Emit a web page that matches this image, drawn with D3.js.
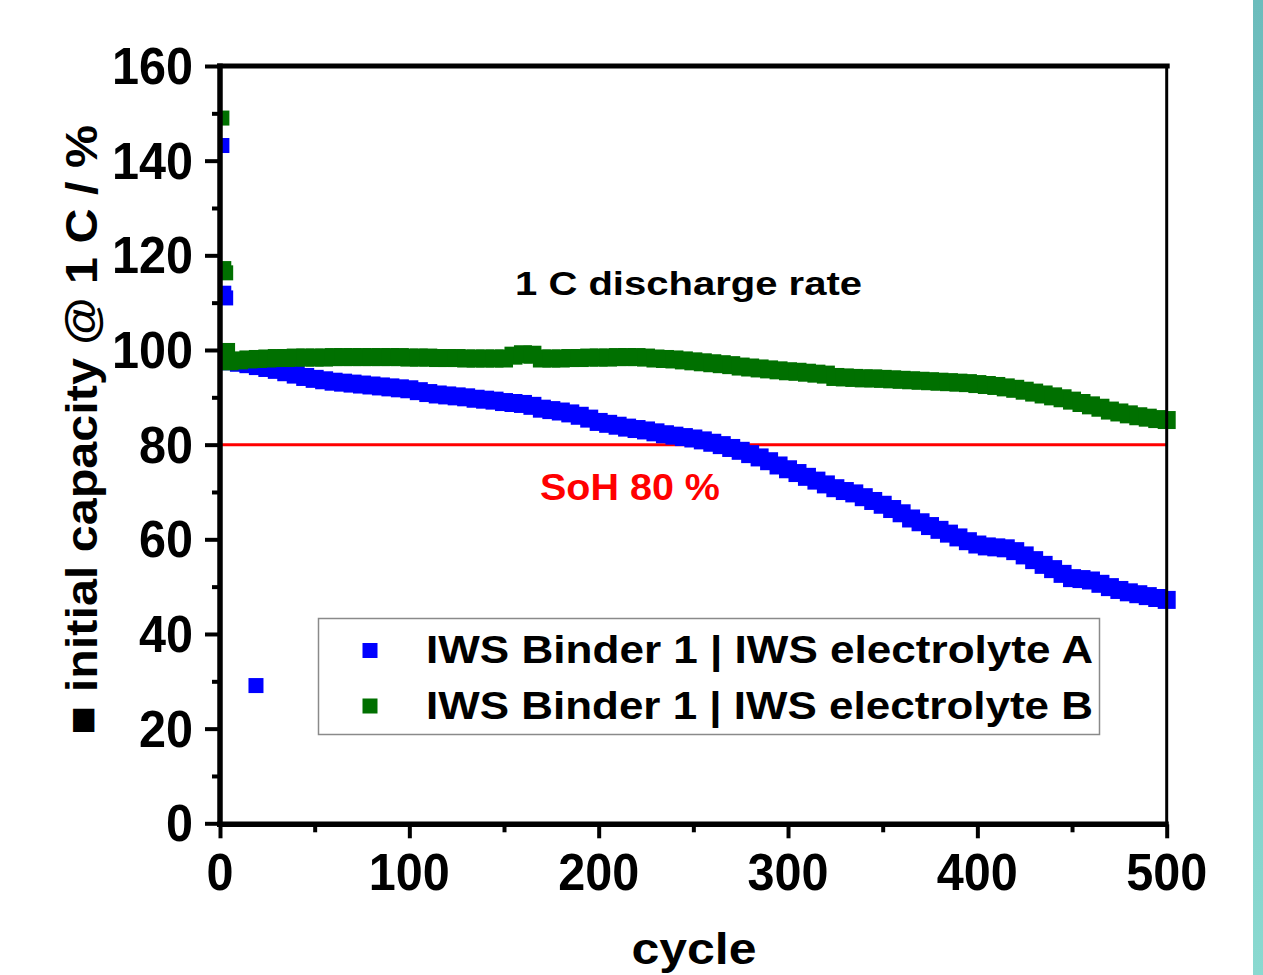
<!DOCTYPE html>
<html><head><meta charset="utf-8">
<script src="https://cdn.jsdelivr.net/npm/d3@7"></script>
<style>
html,body{margin:0;padding:0;background:#fff;}
svg text{font-family:"Liberation Sans",Arial,Helvetica,sans-serif;font-weight:bold;}
</style></head>
<body>
<svg id="chart" width="1263" height="975"></svg>
<script>
// ---------- data ----------
const cycles = [5,10,15,20,25,30,35,40,45,50,55,60,65,70,75,80,85,90,95,100,
  105,110,115,120,125,130,135,140,145,150,155,160,165,170,175,180,185,190,195,200,
  205,210,215,220,225,230,235,240,245,250,255,260,265,270,275,280,285,290,295,300,
  305,310,315,320,325,330,335,340,345,350,355,360,365,370,375,380,385,390,395,400,
  405,410,415,420,425,430,435,440,445,450,455,460,465,470,475,480,485,490,495,500];
const capacityA = [97.6,97.3,97.0,96.6,96.2,95.8,95.3,94.8,94.3,93.9,93.6,93.3,93.1,92.9,92.7,92.5,92.3,92.1,91.9,91.7,
  91.3,90.9,90.6,90.4,90.2,90.0,89.7,89.5,89.3,89.0,88.8,88.6,88.2,87.6,87.3,87.0,86.6,86.1,85.5,84.8,
  84.4,84.0,83.6,83.3,83.0,82.6,82.2,81.9,81.6,81.3,80.9,80.4,79.9,79.3,78.7,78.0,77.3,76.5,75.6,74.8,
  74.0,73.2,72.4,71.6,70.8,70.2,69.7,68.9,68.1,67.3,66.4,65.5,64.4,63.6,62.8,62.0,61.2,60.4,59.6,58.9,
  58.5,58.3,58.1,57.5,56.6,55.6,54.6,53.7,52.7,51.8,51.6,51.3,50.6,49.9,49.3,48.8,48.4,48.0,47.6,47.2];
const capacityB = [97.6,97.8,98.0,98.1,98.2,98.3,98.3,98.4,98.4,98.4,98.4,98.5,98.5,98.5,98.5,98.5,98.5,98.5,98.5,98.4,
  98.4,98.4,98.3,98.3,98.3,98.2,98.2,98.2,98.2,98.2,98.8,99.1,99.0,98.2,98.2,98.2,98.3,98.3,98.4,98.4,
  98.4,98.5,98.5,98.5,98.4,98.2,98.1,98.0,97.8,97.6,97.4,97.2,97.0,96.8,96.5,96.3,96.1,95.9,95.7,95.5,
  95.4,95.2,95.0,94.8,94.3,94.2,94.1,94.0,94.0,93.9,93.8,93.7,93.6,93.5,93.4,93.3,93.2,93.1,93.0,92.8,
  92.6,92.4,92.1,91.8,91.4,91.0,90.6,90.2,89.8,89.3,88.8,88.3,87.8,87.2,86.8,86.4,86.0,85.7,85.4,85.2];
const earlyCyclesA = [1,2,3,19];
const earlyCapacityA = [143.2,112.0,111.0,29.1];
const earlyCyclesB = [1,2,3,4];
const earlyCapacityB = [149.0,117.2,116.3,99.9];

const seriesNames = ["IWS Binder 1 | IWS electrolyte A","IWS Binder 1 | IWS electrolyte B"];
const seriesColors = ["#0000ff","#007000"];
const xTicks = [0,100,200,300,400,500];
const xMinor = [50,150,250,350,450];
const yTicks = [0,20,40,60,80,100,120,140,160];
const yMinor = [10,30,50,70,90,110,130,150];
const sohLevel = 80;

// ---------- layout ----------
const svg = d3.select("#chart");
const L = 220, R = 1166.7, T = 66, B = 823.3;
const x = d3.scaleLinear().domain([0,500]).range([L,R]);
const y = d3.scaleLinear().domain([0,160]).range([B,T]);

// teal edge bar
const defs = svg.append("defs");
const grad = defs.append("linearGradient").attr("id","teal").attr("x1",0).attr("y1",0).attr("x2",0).attr("y2",1);
grad.append("stop").attr("offset","0%").attr("stop-color","#6cbcbc");
grad.append("stop").attr("offset","100%").attr("stop-color","#8ad9d0");
svg.append("rect").attr("x",1253).attr("y",0).attr("width",10).attr("height",975).attr("fill","url(#teal)");

defs.append("clipPath").attr("id","plotclip").append("rect")
  .attr("x",L).attr("y",T).attr("width",R-L+10).attr("height",B-T+10);

// SoH line
svg.append("line").attr("x1",L).attr("x2",R).attr("y1",y(sohLevel)).attr("y2",y(sohLevel))
  .attr("stroke","#ff0000").attr("stroke-width",3);

// data markers
const msEarly = 15, msMain = 18;
const sets = [
  {c: cycles, v: capacityA, ce: earlyCyclesA, ve: earlyCapacityA, col: seriesColors[0]},
  {c: cycles, v: capacityB, ce: earlyCyclesB, ve: earlyCapacityB, col: seriesColors[1]}
];
const gData = svg.append("g").attr("clip-path","url(#plotclip)");
sets.forEach(s => {
  const g = gData.append("g");
  const early = s.ce.map((c,i)=>({c, v:s.ve[i]}));
  const main = s.c.map((c,i)=>({c, v:s.v[i]}));
  g.append("g").selectAll("rect").data(main).join("rect")
    .attr("x",d=>x(d.c)-msMain/2).attr("y",d=>y(d.v)-msMain/2)
    .attr("width",msMain).attr("height",msMain).attr("fill",s.col);
  g.append("g").selectAll("rect").data(early).join("rect")
    .attr("x",d=>x(d.c)-msEarly/2).attr("y",d=>y(d.v)-msEarly/2)
    .attr("width",msEarly).attr("height",msEarly).attr("fill",s.col);
});

// axes
const axisCol = "#000";
const gx = svg.append("g").attr("transform",`translate(0,${B+1})`)
  .call(d3.axisBottom(x).tickValues(xTicks).tickSize(14).tickSizeOuter(0).tickFormat(""));
const gxm = svg.append("g").attr("transform",`translate(0,${B+1})`)
  .call(d3.axisBottom(x).tickValues(xMinor).tickSize(8).tickSizeOuter(0).tickFormat(""));
const gy = svg.append("g").attr("transform",`translate(${L},0)`)
  .call(d3.axisLeft(y).tickValues(yTicks).tickSize(15).tickSizeOuter(0).tickFormat(""));
const gym = svg.append("g").attr("transform",`translate(${L},0)`)
  .call(d3.axisLeft(y).tickValues(yMinor).tickSize(8).tickSizeOuter(0).tickFormat(""));
[gx,gxm,gy,gym].forEach(g=>{
  g.select(".domain").remove();
  g.selectAll(".tick line").attr("stroke",axisCol).attr("stroke-width",4);
});
// frame lines
svg.append("line").attr("x1",L).attr("x2",L).attr("y1",T-2.5).attr("y2",B+3.5).attr("stroke",axisCol).attr("stroke-width",5.5);
svg.append("line").attr("x1",L-3).attr("x2",R+2).attr("y1",B+1).attr("y2",B+1).attr("stroke",axisCol).attr("stroke-width",5.5);
svg.append("line").attr("x1",L-3).attr("x2",R+3).attr("y1",T).attr("y2",T).attr("stroke",axisCol).attr("stroke-width",5);
svg.append("line").attr("x1",R).attr("x2",R).attr("y1",T).attr("y2",B+1).attr("stroke",axisCol).attr("stroke-width",3);

// tick labels
const digitW = 27;
svg.append("g").selectAll("text").data(xTicks).join("text")
  .attr("x",d=>x(d)).attr("y",890).attr("text-anchor","middle")
  .attr("font-size",52).attr("fill","#000")
  .attr("textLength",d=>String(d).length*digitW).attr("lengthAdjust","spacingAndGlyphs")
  .text(d=>d);
svg.append("g").selectAll("text").data(yTicks).join("text")
  .attr("x",193).attr("y",d=>y(d)+18).attr("text-anchor","end")
  .attr("font-size",52).attr("fill","#000")
  .attr("textLength",d=>String(d).length*digitW).attr("lengthAdjust","spacingAndGlyphs")
  .text(d=>d);

// axis titles
svg.append("text").attr("x",694).attr("y",964).attr("text-anchor","middle")
  .attr("font-size",44).attr("textLength",125).attr("lengthAdjust","spacingAndGlyphs")
  .text("cycle");
svg.append("text").attr("transform","translate(97,430) rotate(-90)").attr("text-anchor","middle")
  .attr("font-size",44).attr("textLength",610).attr("lengthAdjust","spacingAndGlyphs")
  .text("\u25A0 initial capacity @ 1 C / %");

// annotations
svg.append("text").attr("x",515).attr("y",295).attr("font-size",34)
  .attr("textLength",347).attr("lengthAdjust","spacingAndGlyphs").text("1 C discharge rate");
svg.append("text").attr("x",540).attr("y",500).attr("font-size",37).attr("fill","#ff0000")
  .attr("textLength",180).attr("lengthAdjust","spacingAndGlyphs").text("SoH 80 %");

// legend
const lg = svg.append("g");
lg.append("rect").attr("x",318.5).attr("y",618.5).attr("width",781).attr("height",116)
  .attr("fill","#fff").attr("stroke","#8a8a8a").attr("stroke-width",1.5);
seriesNames.forEach((n,i)=>{
  const cy = 650.5 + i*55.5;
  lg.append("rect").attr("x",370-7.5).attr("y",cy-7.5).attr("width",15).attr("height",15).attr("fill",seriesColors[i]);
  lg.append("text").attr("x",426).attr("y",cy+12.5).attr("font-size",39)
    .attr("textLength",667).attr("lengthAdjust","spacingAndGlyphs").text(n);
});
</script>
</body></html>
